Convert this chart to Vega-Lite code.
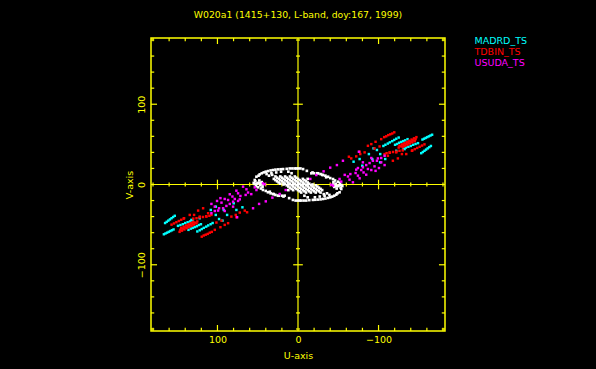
{"$schema":"https://vega.github.io/schema/vega-lite/v6.json","width":294,"height":293,"autosize":"none","padding":{"left":151,"top":38,"right":151,"bottom":38},"background":"#000000","title":{"text":"W020a1 (1415+130, L-band, doy:167, 1999)","color":"#ffff00","font":"DejaVu Sans","fontSize":9.3,"fontWeight":"normal","offset":16,"anchor":"middle"},"config":{"view":{"stroke":"#ffff00","strokeWidth":1.5}},"datasets":{"ticks":[{"t":0,"a":-182.5,"b":182.5},{"t":-180,"a":-182.5,"b":-178.5},{"t":-160,"a":-182.5,"b":-178.5},{"t":-140,"a":-182.5,"b":-178.5},{"t":-120,"a":-182.5,"b":-178.5},{"t":-100,"a":-182.5,"b":-175},{"t":-80,"a":-182.5,"b":-178.5},{"t":-60,"a":-182.5,"b":-178.5},{"t":-40,"a":-182.5,"b":-178.5},{"t":-20,"a":-182.5,"b":-178.5},{"t":20,"a":-182.5,"b":-178.5},{"t":40,"a":-182.5,"b":-178.5},{"t":60,"a":-182.5,"b":-178.5},{"t":80,"a":-182.5,"b":-178.5},{"t":100,"a":-182.5,"b":-175},{"t":120,"a":-182.5,"b":-178.5},{"t":140,"a":-182.5,"b":-178.5},{"t":160,"a":-182.5,"b":-178.5},{"t":180,"a":-182.5,"b":-178.5},{"t":-180,"a":182.5,"b":178.5},{"t":-160,"a":182.5,"b":178.5},{"t":-140,"a":182.5,"b":178.5},{"t":-120,"a":182.5,"b":178.5},{"t":-100,"a":182.5,"b":175},{"t":-80,"a":182.5,"b":178.5},{"t":-60,"a":182.5,"b":178.5},{"t":-40,"a":182.5,"b":178.5},{"t":-20,"a":182.5,"b":178.5},{"t":20,"a":182.5,"b":178.5},{"t":40,"a":182.5,"b":178.5},{"t":60,"a":182.5,"b":178.5},{"t":80,"a":182.5,"b":178.5},{"t":100,"a":182.5,"b":175},{"t":120,"a":182.5,"b":178.5},{"t":140,"a":182.5,"b":178.5},{"t":160,"a":182.5,"b":178.5},{"t":180,"a":182.5,"b":178.5},{"t":-180,"a":-2.5,"b":2.5},{"t":-160,"a":-2.5,"b":2.5},{"t":-140,"a":-2.5,"b":2.5},{"t":-120,"a":-2.5,"b":2.5},{"t":-100,"a":-6,"b":6},{"t":-80,"a":-2.5,"b":2.5},{"t":-60,"a":-2.5,"b":2.5},{"t":-40,"a":-2.5,"b":2.5},{"t":-20,"a":-2.5,"b":2.5},{"t":20,"a":-2.5,"b":2.5},{"t":40,"a":-2.5,"b":2.5},{"t":60,"a":-2.5,"b":2.5},{"t":80,"a":-2.5,"b":2.5},{"t":100,"a":-6,"b":6},{"t":120,"a":-2.5,"b":2.5},{"t":140,"a":-2.5,"b":2.5},{"t":160,"a":-2.5,"b":2.5},{"t":180,"a":-2.5,"b":2.5}],"white":[{"u":26,"v":8.5},{"u":20,"v":8.5},{"u":14,"v":8.5},{"u":8,"v":8.5},{"u":2,"v":8.5},{"u":28,"v":5.5},{"u":22,"v":5.5},{"u":16,"v":5.5},{"u":10,"v":5.5},{"u":4,"v":5.5},{"u":-2,"v":5.5},{"u":-8,"v":5.5},{"u":24,"v":2.5},{"u":18,"v":2.5},{"u":12,"v":2.5},{"u":6,"v":2.5},{"u":0,"v":2.5},{"u":-6,"v":2.5},{"u":-12,"v":2.5},{"u":18,"v":0},{"u":12,"v":0},{"u":6,"v":0},{"u":0,"v":0},{"u":-6,"v":0},{"u":-12,"v":0},{"u":-18,"v":0},{"u":12,"v":-2.5},{"u":6,"v":-2.5},{"u":0,"v":-2.5},{"u":-6,"v":-2.5},{"u":-12,"v":-2.5},{"u":-18,"v":-2.5},{"u":-24,"v":-2.5},{"u":8,"v":-5.5},{"u":2,"v":-5.5},{"u":-4,"v":-5.5},{"u":-10,"v":-5.5},{"u":-16,"v":-5.5},{"u":-22,"v":-5.5},{"u":-28,"v":-5.5},{"u":-2,"v":-8.5},{"u":-8,"v":-8.5},{"u":-14,"v":-8.5},{"u":-20,"v":-8.5},{"u":-26,"v":-8.5},{"u":49,"v":11},{"u":45,"v":14},{"u":40,"v":16},{"u":34,"v":17.5},{"u":28,"v":18.5},{"u":21.5,"v":19},{"u":14,"v":19.5},{"u":7,"v":20},{"u":2,"v":20},{"u":-3,"v":20},{"u":-11,"v":17},{"u":-20,"v":14},{"u":-28,"v":13},{"u":-34,"v":11},{"u":-40,"v":8},{"u":-46,"v":5},{"u":-52,"v":2},{"u":-49,"v":-11},{"u":-45,"v":-14},{"u":-40,"v":-16},{"u":-34,"v":-17.5},{"u":-28,"v":-18.5},{"u":-21.5,"v":-19},{"u":-14,"v":-19.5},{"u":-7,"v":-20},{"u":-2,"v":-20},{"u":3,"v":-20},{"u":11,"v":-17},{"u":20,"v":-14},{"u":28,"v":-13},{"u":34,"v":-11},{"u":40,"v":-8},{"u":46,"v":-5},{"u":52,"v":-2},{"u":36,"v":11},{"u":32,"v":12},{"u":-36,"v":-11},{"u":-32,"v":-12},{"u":12,"v":16},{"u":-12,"v":-16},{"u":8,"v":14},{"u":-8,"v":-14},{"u":53.7,"v":5.6},{"u":51.6,"v":9.7},{"u":47.5,"v":12.6},{"u":42.5,"v":15.1},{"u":37.1,"v":16.7},{"u":31,"v":18},{"u":24.7,"v":18.8},{"u":18.5,"v":19.2},{"u":10.3,"v":20},{"u":4,"v":20},{"u":-0.1,"v":20},{"u":-6.3,"v":19.2},{"u":-16.6,"v":13.9},{"u":-24.9,"v":13.9},{"u":-31,"v":11.8},{"u":-37.3,"v":9.7},{"u":-43.5,"v":6.8},{"u":-49.7,"v":3.5},{"u":-53.8,"v":-0.6},{"u":-53.7,"v":-5.6},{"u":-51.6,"v":-9.7},{"u":-47.5,"v":-12.6},{"u":-42.5,"v":-15.1},{"u":-37.1,"v":-16.7},{"u":-31,"v":-18},{"u":-24.7,"v":-18.8},{"u":-18.5,"v":-19.2},{"u":-10.3,"v":-20},{"u":-4,"v":-20},{"u":0.1,"v":-20},{"u":6.3,"v":-19.2},{"u":16.6,"v":-13.9},{"u":24.9,"v":-13.9},{"u":31,"v":-11.8},{"u":37.3,"v":-9.7},{"u":43.5,"v":-6.8},{"u":49.7,"v":-3.5},{"u":53.8,"v":0.6},{"u":35,"v":-9},{"u":30,"v":-12},{"u":24,"v":-14},{"u":18,"v":-15},{"u":-35,"v":9},{"u":-30,"v":12},{"u":-24,"v":14},{"u":-18,"v":15},{"u":39,"v":13},{"u":33,"v":14},{"u":27,"v":15},{"u":21,"v":16},{"u":-39,"v":-13},{"u":-33,"v":-14},{"u":-27,"v":-15},{"u":-21,"v":-16},{"u":-44,"v":3},{"u":-47,"v":1},{"u":-50,"v":-2},{"u":-53,"v":-4},{"u":-45,"v":-3},{"u":-48,"v":-5},{"u":-51,"v":-1},{"u":-44,"v":0},{"u":-47,"v":-2},{"u":-55,"v":-2},{"u":44,"v":-3},{"u":47,"v":-1},{"u":50,"v":2},{"u":53,"v":4},{"u":45,"v":3},{"u":48,"v":5},{"u":51,"v":1},{"u":44,"v":0},{"u":47,"v":2},{"u":55,"v":2},{"u":28,"v":10},{"u":22,"v":10},{"u":16,"v":10},{"u":10,"v":10},{"u":4,"v":10},{"u":30,"v":7},{"u":24,"v":7},{"u":18,"v":7},{"u":12,"v":7},{"u":6,"v":7},{"u":0,"v":7},{"u":-6,"v":7},{"u":-12,"v":7},{"u":26,"v":4},{"u":20,"v":4},{"u":14,"v":4},{"u":8,"v":4},{"u":2,"v":4},{"u":-4,"v":4},{"u":-10,"v":4},{"u":22,"v":1},{"u":16,"v":1},{"u":10,"v":1},{"u":4,"v":1},{"u":-2,"v":1},{"u":-8,"v":1},{"u":-14,"v":1},{"u":14,"v":-1},{"u":8,"v":-1},{"u":2,"v":-1},{"u":-4,"v":-1},{"u":-10,"v":-1},{"u":-16,"v":-1},{"u":-22,"v":-1},{"u":10,"v":-4},{"u":4,"v":-4},{"u":-2,"v":-4},{"u":-8,"v":-4},{"u":-14,"v":-4},{"u":-20,"v":-4},{"u":-26,"v":-4},{"u":12,"v":-7},{"u":6,"v":-7},{"u":0,"v":-7},{"u":-6,"v":-7},{"u":-12,"v":-7},{"u":-18,"v":-7},{"u":-24,"v":-7},{"u":-30,"v":-7},{"u":-4,"v":-10},{"u":-10,"v":-10},{"u":-16,"v":-10},{"u":-22,"v":-10},{"u":-28,"v":-10}],"pts":[{"u":165,"v":-48,"s":"MADRD_TS"},{"u":163,"v":-46.5,"s":"MADRD_TS"},{"u":161,"v":-45,"s":"MADRD_TS"},{"u":159,"v":-43.5,"s":"MADRD_TS"},{"u":157,"v":-42,"s":"MADRD_TS"},{"u":155,"v":-40.5,"s":"MADRD_TS"},{"u":153,"v":-39,"s":"MADRD_TS"},{"u":166.5,"v":-62,"s":"MADRD_TS"},{"u":164.5,"v":-61,"s":"MADRD_TS"},{"u":162.5,"v":-60,"s":"MADRD_TS"},{"u":160.5,"v":-59,"s":"MADRD_TS"},{"u":158.5,"v":-58,"s":"MADRD_TS"},{"u":156.5,"v":-57,"s":"MADRD_TS"},{"u":154.5,"v":-56,"s":"MADRD_TS"},{"u":136,"v":-56.5,"s":"MADRD_TS"},{"u":133,"v":-55,"s":"MADRD_TS"},{"u":130.5,"v":-54,"s":"MADRD_TS"},{"u":128,"v":-53,"s":"MADRD_TS"},{"u":125.5,"v":-52,"s":"MADRD_TS"},{"u":123,"v":-50.5,"s":"MADRD_TS"},{"u":120.5,"v":-49.5,"s":"MADRD_TS"},{"u":125,"v":-58.5,"s":"MADRD_TS"},{"u":122,"v":-57,"s":"MADRD_TS"},{"u":119.5,"v":-55.5,"s":"MADRD_TS"},{"u":117,"v":-54,"s":"MADRD_TS"},{"u":114,"v":-52.5,"s":"MADRD_TS"},{"u":111.5,"v":-51,"s":"MADRD_TS"},{"u":108.5,"v":-49.5,"s":"MADRD_TS"},{"u":106,"v":-48,"s":"MADRD_TS"},{"u":149,"v":-51.5,"s":"MADRD_TS"},{"u":146,"v":-50.5,"s":"MADRD_TS"},{"u":143,"v":-49.5,"s":"MADRD_TS"},{"u":140,"v":-48,"s":"MADRD_TS"},{"u":137,"v":-47,"s":"MADRD_TS"},{"u":134,"v":-46,"s":"MADRD_TS"},{"u":131,"v":-44.5,"s":"MADRD_TS"},{"u":102.1,"v":-37.9,"s":"MADRD_TS"},{"u":88,"v":-37.9,"s":"MADRD_TS"},{"u":93.8,"v":-45,"s":"MADRD_TS"},{"u":98,"v":-43,"s":"MADRD_TS"},{"u":76.5,"v":-31.7,"s":"MADRD_TS"},{"u":69,"v":-28.4,"s":"MADRD_TS"},{"u":92.2,"v":-31.7,"s":"MADRD_TS"},{"u":108.3,"v":-31.7,"s":"MADRD_TS"},{"u":102,"v":-27.6,"s":"MADRD_TS"},{"u":79.8,"v":-23.4,"s":"MADRD_TS"},{"u":122,"v":-42,"s":"MADRD_TS"},{"u":132.3,"v":-44.1,"s":"MADRD_TS"},{"u":-165,"v":48,"s":"MADRD_TS"},{"u":-163,"v":46.5,"s":"MADRD_TS"},{"u":-161,"v":45,"s":"MADRD_TS"},{"u":-159,"v":43.5,"s":"MADRD_TS"},{"u":-157,"v":42,"s":"MADRD_TS"},{"u":-155,"v":40.5,"s":"MADRD_TS"},{"u":-153,"v":39,"s":"MADRD_TS"},{"u":-166.5,"v":62,"s":"MADRD_TS"},{"u":-164.5,"v":61,"s":"MADRD_TS"},{"u":-162.5,"v":60,"s":"MADRD_TS"},{"u":-160.5,"v":59,"s":"MADRD_TS"},{"u":-158.5,"v":58,"s":"MADRD_TS"},{"u":-156.5,"v":57,"s":"MADRD_TS"},{"u":-154.5,"v":56,"s":"MADRD_TS"},{"u":-136,"v":56.5,"s":"MADRD_TS"},{"u":-133,"v":55,"s":"MADRD_TS"},{"u":-130.5,"v":54,"s":"MADRD_TS"},{"u":-128,"v":53,"s":"MADRD_TS"},{"u":-125.5,"v":52,"s":"MADRD_TS"},{"u":-123,"v":50.5,"s":"MADRD_TS"},{"u":-120.5,"v":49.5,"s":"MADRD_TS"},{"u":-125,"v":58.5,"s":"MADRD_TS"},{"u":-122,"v":57,"s":"MADRD_TS"},{"u":-119.5,"v":55.5,"s":"MADRD_TS"},{"u":-117,"v":54,"s":"MADRD_TS"},{"u":-114,"v":52.5,"s":"MADRD_TS"},{"u":-111.5,"v":51,"s":"MADRD_TS"},{"u":-108.5,"v":49.5,"s":"MADRD_TS"},{"u":-106,"v":48,"s":"MADRD_TS"},{"u":-149,"v":51.5,"s":"MADRD_TS"},{"u":-146,"v":50.5,"s":"MADRD_TS"},{"u":-143,"v":49.5,"s":"MADRD_TS"},{"u":-140,"v":48,"s":"MADRD_TS"},{"u":-137,"v":47,"s":"MADRD_TS"},{"u":-134,"v":46,"s":"MADRD_TS"},{"u":-131,"v":44.5,"s":"MADRD_TS"},{"u":-102.1,"v":37.9,"s":"MADRD_TS"},{"u":-88,"v":37.9,"s":"MADRD_TS"},{"u":-93.8,"v":45,"s":"MADRD_TS"},{"u":-98,"v":43,"s":"MADRD_TS"},{"u":-76.5,"v":31.7,"s":"MADRD_TS"},{"u":-69,"v":28.4,"s":"MADRD_TS"},{"u":-92.2,"v":31.7,"s":"MADRD_TS"},{"u":-108.3,"v":31.7,"s":"MADRD_TS"},{"u":-102,"v":27.6,"s":"MADRD_TS"},{"u":-79.8,"v":23.4,"s":"MADRD_TS"},{"u":-122,"v":42,"s":"MADRD_TS"},{"u":-132.3,"v":44.1,"s":"MADRD_TS"},{"u":147,"v":-59,"s":"TDBIN_TS"},{"u":144,"v":-57.5,"s":"TDBIN_TS"},{"u":141,"v":-56,"s":"TDBIN_TS"},{"u":138,"v":-54.5,"s":"TDBIN_TS"},{"u":135,"v":-53,"s":"TDBIN_TS"},{"u":132,"v":-51.5,"s":"TDBIN_TS"},{"u":129,"v":-50,"s":"TDBIN_TS"},{"u":126,"v":-48.5,"s":"TDBIN_TS"},{"u":146,"v":-56.5,"s":"TDBIN_TS"},{"u":143,"v":-55,"s":"TDBIN_TS"},{"u":140,"v":-53.5,"s":"TDBIN_TS"},{"u":137,"v":-52,"s":"TDBIN_TS"},{"u":134,"v":-50.5,"s":"TDBIN_TS"},{"u":131,"v":-49,"s":"TDBIN_TS"},{"u":128,"v":-47.5,"s":"TDBIN_TS"},{"u":125,"v":-46,"s":"TDBIN_TS"},{"u":145,"v":-54,"s":"TDBIN_TS"},{"u":142,"v":-52.5,"s":"TDBIN_TS"},{"u":139,"v":-51,"s":"TDBIN_TS"},{"u":136,"v":-49.5,"s":"TDBIN_TS"},{"u":133,"v":-48,"s":"TDBIN_TS"},{"u":130,"v":-46.5,"s":"TDBIN_TS"},{"u":119.5,"v":-65,"s":"TDBIN_TS"},{"u":117,"v":-63.5,"s":"TDBIN_TS"},{"u":114.5,"v":-62.5,"s":"TDBIN_TS"},{"u":112,"v":-61.5,"s":"TDBIN_TS"},{"u":109.5,"v":-60,"s":"TDBIN_TS"},{"u":107,"v":-59,"s":"TDBIN_TS"},{"u":157,"v":-50,"s":"TDBIN_TS"},{"u":154,"v":-48.5,"s":"TDBIN_TS"},{"u":151,"v":-47,"s":"TDBIN_TS"},{"u":148,"v":-45.5,"s":"TDBIN_TS"},{"u":145,"v":-44,"s":"TDBIN_TS"},{"u":142,"v":-42.5,"s":"TDBIN_TS"},{"u":130,"v":-42.5,"s":"TDBIN_TS"},{"u":126,"v":-42,"s":"TDBIN_TS"},{"u":122,"v":-41,"s":"TDBIN_TS"},{"u":118,"v":-40.5,"s":"TDBIN_TS"},{"u":114,"v":-39.5,"s":"TDBIN_TS"},{"u":110,"v":-39,"s":"TDBIN_TS"},{"u":103.3,"v":-56.5,"s":"TDBIN_TS"},{"u":96.3,"v":-53.2,"s":"TDBIN_TS"},{"u":91,"v":-50.3,"s":"TDBIN_TS"},{"u":86.8,"v":-48.2,"s":"TDBIN_TS"},{"u":82.7,"v":-40,"s":"TDBIN_TS"},{"u":77.3,"v":-37.9,"s":"TDBIN_TS"},{"u":72.3,"v":-35,"s":"TDBIN_TS"},{"u":66.1,"v":-32.5,"s":"TDBIN_TS"},{"u":63.2,"v":-34.6,"s":"TDBIN_TS"},{"u":101.3,"v":-47.4,"s":"TDBIN_TS"},{"u":95,"v":-45,"s":"TDBIN_TS"},{"u":117.8,"v":-29.6,"s":"TDBIN_TS"},{"u":124,"v":-32.5,"s":"TDBIN_TS"},{"u":129,"v":-37.9,"s":"TDBIN_TS"},{"u":134.4,"v":-37.9,"s":"TDBIN_TS"},{"u":111.6,"v":-35.8,"s":"TDBIN_TS"},{"u":76.5,"v":-40.8,"s":"TDBIN_TS"},{"u":107.5,"v":-37.9,"s":"TDBIN_TS"},{"u":113.7,"v":-40,"s":"TDBIN_TS"},{"u":122,"v":-40,"s":"TDBIN_TS"},{"u":141.4,"v":-42,"s":"TDBIN_TS"},{"u":-147,"v":59,"s":"TDBIN_TS"},{"u":-144,"v":57.5,"s":"TDBIN_TS"},{"u":-141,"v":56,"s":"TDBIN_TS"},{"u":-138,"v":54.5,"s":"TDBIN_TS"},{"u":-135,"v":53,"s":"TDBIN_TS"},{"u":-132,"v":51.5,"s":"TDBIN_TS"},{"u":-129,"v":50,"s":"TDBIN_TS"},{"u":-126,"v":48.5,"s":"TDBIN_TS"},{"u":-146,"v":56.5,"s":"TDBIN_TS"},{"u":-143,"v":55,"s":"TDBIN_TS"},{"u":-140,"v":53.5,"s":"TDBIN_TS"},{"u":-137,"v":52,"s":"TDBIN_TS"},{"u":-134,"v":50.5,"s":"TDBIN_TS"},{"u":-131,"v":49,"s":"TDBIN_TS"},{"u":-128,"v":47.5,"s":"TDBIN_TS"},{"u":-125,"v":46,"s":"TDBIN_TS"},{"u":-145,"v":54,"s":"TDBIN_TS"},{"u":-142,"v":52.5,"s":"TDBIN_TS"},{"u":-139,"v":51,"s":"TDBIN_TS"},{"u":-136,"v":49.5,"s":"TDBIN_TS"},{"u":-133,"v":48,"s":"TDBIN_TS"},{"u":-130,"v":46.5,"s":"TDBIN_TS"},{"u":-119.5,"v":65,"s":"TDBIN_TS"},{"u":-117,"v":63.5,"s":"TDBIN_TS"},{"u":-114.5,"v":62.5,"s":"TDBIN_TS"},{"u":-112,"v":61.5,"s":"TDBIN_TS"},{"u":-109.5,"v":60,"s":"TDBIN_TS"},{"u":-107,"v":59,"s":"TDBIN_TS"},{"u":-157,"v":50,"s":"TDBIN_TS"},{"u":-154,"v":48.5,"s":"TDBIN_TS"},{"u":-151,"v":47,"s":"TDBIN_TS"},{"u":-148,"v":45.5,"s":"TDBIN_TS"},{"u":-145,"v":44,"s":"TDBIN_TS"},{"u":-142,"v":42.5,"s":"TDBIN_TS"},{"u":-130,"v":42.5,"s":"TDBIN_TS"},{"u":-126,"v":42,"s":"TDBIN_TS"},{"u":-122,"v":41,"s":"TDBIN_TS"},{"u":-118,"v":40.5,"s":"TDBIN_TS"},{"u":-114,"v":39.5,"s":"TDBIN_TS"},{"u":-110,"v":39,"s":"TDBIN_TS"},{"u":-103.3,"v":56.5,"s":"TDBIN_TS"},{"u":-96.3,"v":53.2,"s":"TDBIN_TS"},{"u":-91,"v":50.3,"s":"TDBIN_TS"},{"u":-86.8,"v":48.2,"s":"TDBIN_TS"},{"u":-82.7,"v":40,"s":"TDBIN_TS"},{"u":-77.3,"v":37.9,"s":"TDBIN_TS"},{"u":-72.3,"v":35,"s":"TDBIN_TS"},{"u":-66.1,"v":32.5,"s":"TDBIN_TS"},{"u":-63.2,"v":34.6,"s":"TDBIN_TS"},{"u":-101.3,"v":47.4,"s":"TDBIN_TS"},{"u":-95,"v":45,"s":"TDBIN_TS"},{"u":-117.8,"v":29.6,"s":"TDBIN_TS"},{"u":-124,"v":32.5,"s":"TDBIN_TS"},{"u":-129,"v":37.9,"s":"TDBIN_TS"},{"u":-134.4,"v":37.9,"s":"TDBIN_TS"},{"u":-111.6,"v":35.8,"s":"TDBIN_TS"},{"u":-76.5,"v":40.8,"s":"TDBIN_TS"},{"u":-107.5,"v":37.9,"s":"TDBIN_TS"},{"u":-113.7,"v":40,"s":"TDBIN_TS"},{"u":-122,"v":40,"s":"TDBIN_TS"},{"u":-141.4,"v":42,"s":"TDBIN_TS"},{"u":68.2,"v":-2.7,"s":"USUDA_TS"},{"u":64,"v":-6,"s":"USUDA_TS"},{"u":76.5,"v":-7.7,"s":"USUDA_TS"},{"u":74.4,"v":-11,"s":"USUDA_TS"},{"u":62,"v":-10,"s":"USUDA_TS"},{"u":58,"v":-12,"s":"USUDA_TS"},{"u":84.7,"v":-12.2,"s":"USUDA_TS"},{"u":81.4,"v":-15,"s":"USUDA_TS"},{"u":71.5,"v":-14.3,"s":"USUDA_TS"},{"u":65,"v":-13,"s":"USUDA_TS"},{"u":91,"v":-18,"s":"USUDA_TS"},{"u":96.3,"v":-17,"s":"USUDA_TS"},{"u":78.5,"v":-18,"s":"USUDA_TS"},{"u":72.3,"v":-18.5,"s":"USUDA_TS"},{"u":80.6,"v":-21.4,"s":"USUDA_TS"},{"u":74.4,"v":-20.5,"s":"USUDA_TS"},{"u":100.5,"v":-20.5,"s":"USUDA_TS"},{"u":95,"v":-22.6,"s":"USUDA_TS"},{"u":107.5,"v":-24.2,"s":"USUDA_TS"},{"u":88.9,"v":-26.7,"s":"USUDA_TS"},{"u":84.7,"v":-24.2,"s":"USUDA_TS"},{"u":80.6,"v":-27.6,"s":"USUDA_TS"},{"u":103.3,"v":-27.6,"s":"USUDA_TS"},{"u":93,"v":-29.6,"s":"USUDA_TS"},{"u":99.2,"v":-32.5,"s":"USUDA_TS"},{"u":103.3,"v":-33,"s":"USUDA_TS"},{"u":91,"v":-33,"s":"USUDA_TS"},{"u":107.5,"v":-35.8,"s":"USUDA_TS"},{"u":75.6,"v":-40.8,"s":"USUDA_TS"},{"u":55.8,"v":-29.6,"s":"USUDA_TS"},{"u":48.3,"v":-24.2,"s":"USUDA_TS"},{"u":40,"v":-21,"s":"USUDA_TS"},{"u":31.8,"v":-16.4,"s":"USUDA_TS"},{"u":22.7,"v":-11.8,"s":"USUDA_TS"},{"u":15.3,"v":-6.9,"s":"USUDA_TS"},{"u":41.3,"v":0.3,"s":"USUDA_TS"},{"u":43.4,"v":1.4,"s":"USUDA_TS"},{"u":53.7,"v":-3.6,"s":"USUDA_TS"},{"u":51.6,"v":-6.9,"s":"USUDA_TS"},{"u":86.8,"v":-19.3,"s":"USUDA_TS"},{"u":98,"v":-29.6,"s":"USUDA_TS"},{"u":-68.2,"v":2.7,"s":"USUDA_TS"},{"u":-64,"v":6,"s":"USUDA_TS"},{"u":-76.5,"v":7.7,"s":"USUDA_TS"},{"u":-74.4,"v":11,"s":"USUDA_TS"},{"u":-62,"v":10,"s":"USUDA_TS"},{"u":-58,"v":12,"s":"USUDA_TS"},{"u":-84.7,"v":12.2,"s":"USUDA_TS"},{"u":-81.4,"v":15,"s":"USUDA_TS"},{"u":-71.5,"v":14.3,"s":"USUDA_TS"},{"u":-65,"v":13,"s":"USUDA_TS"},{"u":-91,"v":18,"s":"USUDA_TS"},{"u":-96.3,"v":17,"s":"USUDA_TS"},{"u":-78.5,"v":18,"s":"USUDA_TS"},{"u":-72.3,"v":18.5,"s":"USUDA_TS"},{"u":-80.6,"v":21.4,"s":"USUDA_TS"},{"u":-74.4,"v":20.5,"s":"USUDA_TS"},{"u":-100.5,"v":20.5,"s":"USUDA_TS"},{"u":-95,"v":22.6,"s":"USUDA_TS"},{"u":-107.5,"v":24.2,"s":"USUDA_TS"},{"u":-88.9,"v":26.7,"s":"USUDA_TS"},{"u":-84.7,"v":24.2,"s":"USUDA_TS"},{"u":-80.6,"v":27.6,"s":"USUDA_TS"},{"u":-103.3,"v":27.6,"s":"USUDA_TS"},{"u":-93,"v":29.6,"s":"USUDA_TS"},{"u":-99.2,"v":32.5,"s":"USUDA_TS"},{"u":-103.3,"v":33,"s":"USUDA_TS"},{"u":-91,"v":33,"s":"USUDA_TS"},{"u":-107.5,"v":35.8,"s":"USUDA_TS"},{"u":-75.6,"v":40.8,"s":"USUDA_TS"},{"u":-55.8,"v":29.6,"s":"USUDA_TS"},{"u":-48.3,"v":24.2,"s":"USUDA_TS"},{"u":-40,"v":21,"s":"USUDA_TS"},{"u":-31.8,"v":16.4,"s":"USUDA_TS"},{"u":-22.7,"v":11.8,"s":"USUDA_TS"},{"u":-15.3,"v":6.9,"s":"USUDA_TS"},{"u":-41.3,"v":-0.3,"s":"USUDA_TS"},{"u":-43.4,"v":-1.4,"s":"USUDA_TS"},{"u":-53.7,"v":3.6,"s":"USUDA_TS"},{"u":-51.6,"v":6.9,"s":"USUDA_TS"},{"u":-86.8,"v":19.3,"s":"USUDA_TS"},{"u":-98,"v":29.6,"s":"USUDA_TS"}]},"layer":[{"data":{"name":"ticks"},"mark":{"type":"rule","color":"#ffff00","strokeWidth":1.2},"encoding":{"x":{"field":"t","type":"quantitative","scale":{"domain":[182.5,-182.5],"nice":false,"zero":false},"axis":{"values":[100,0,-100],"title":"U-axis","titleColor":"#ffff00","titleFont":"DejaVu Sans","titleFontSize":9.5,"titleFontWeight":"normal","titlePadding":7,"labelColor":"#ffff00","labelFont":"DejaVu Sans","labelFontSize":9.5,"labelPadding":3,"domain":false,"ticks":false,"grid":false,"tickSize":0,"labelFlush":false}},"y":{"field":"a","type":"quantitative","scale":{"domain":[-182.5,182.5],"nice":false,"zero":false},"axis":{"values":[100,0,-100],"title":"V-axis","titleColor":"#ffff00","titleFont":"DejaVu Sans","titleFontSize":9.5,"titleFontWeight":"normal","titlePadding":2,"labelColor":"#ffff00","labelFont":"DejaVu Sans","labelFontSize":9.5,"labelAngle":-90,"labelAlign":"center","labelBaseline":"bottom","labelPadding":5,"domain":false,"ticks":false,"grid":false,"tickSize":0,"labelFlush":false}},"y2":{"field":"b"}}},{"data":{"name":"ticks"},"mark":{"type":"rule","color":"#ffff00","strokeWidth":1.2},"encoding":{"y":{"field":"t","type":"quantitative"},"x":{"field":"a","type":"quantitative"},"x2":{"field":"b"}}},{"data":{"name":"white"},"mark":{"type":"square","color":"#ffffff","size":7,"opacity":1},"encoding":{"x":{"field":"u","type":"quantitative"},"y":{"field":"v","type":"quantitative"}}},{"data":{"name":"pts"},"mark":{"type":"square","size":6,"opacity":1},"encoding":{"x":{"field":"u","type":"quantitative"},"y":{"field":"v","type":"quantitative"},"color":{"field":"s","type":"nominal","scale":{"domain":["MADRD_TS","TDBIN_TS","USUDA_TS"],"range":["#00ffff","#ff0000","#ff00ff"]},"legend":{"title":null,"orient":"none","legendX":314,"legendY":-2,"symbolSize":0,"symbolOpacity":0,"symbolStrokeWidth":0,"labelFont":"DejaVu Sans","labelFontSize":9.5,"labelOffset":0,"columnPadding":0,"rowPadding":0,"encode":{"labels":{"update":{"fill":{"scale":"color","field":"value"}}}}}}}}]}
